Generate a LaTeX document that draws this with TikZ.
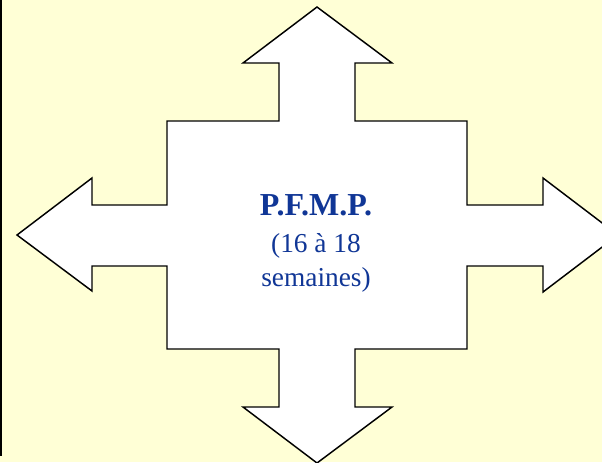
\documentclass[tikz,border=0pt]{standalone}
\usepackage{fontspec}
\setmainfont{Liberation Serif}
\definecolor{paleyellow}{RGB}{255,255,214}
\definecolor{titleblue}{RGB}{16,54,150}
\begin{document}
\begin{tikzpicture}[x=0.75pt,y=-0.75pt,
    cross/.style={draw=black, fill=white, line width=1.1pt, line join=miter},
    rule/.style={draw=black, line width=1.6pt}]
    \useasboundingbox (0,0) rectangle (602,462);
    \clip (0,0) rectangle (602,462);
    \fill[paleyellow] (0,0) rectangle (602,462);
    \draw[rule] (1.2,0) -- (1.2,456);
    % the four-way arrow
    \draw[cross] (317,7)
    -- (392,63) -- (355,63) -- (355,121) -- (467,121) -- (467,205)
    -- (543,205) -- (543,178) -- (618,235) -- (543,292) -- (543,266)
    -- (467,266) -- (467,349) -- (355,349) -- (355,407) -- (392,407)
    -- (317,463) -- (243,407) -- (279,407) -- (279,349) -- (167,349)
    -- (167,266) -- (92,266) -- (92,291) -- (17,235) -- (92,178)
    -- (92,205) -- (167,205) -- (167,121) -- (279,121) -- (279,63)
    -- (243,63) -- cycle;
    \node[anchor=north, inner sep=0pt, align=center, text=titleblue,
          font={\fontsize{20.5}{25.5}\selectfont}] (pfmp) at (316,194)
    {{\fontsize{24}{28}\selectfont\bfseries P.F.M.P.}\\[2.25pt]
     (16 à 18\\ semaines)};
\end{tikzpicture}
\end{document}
